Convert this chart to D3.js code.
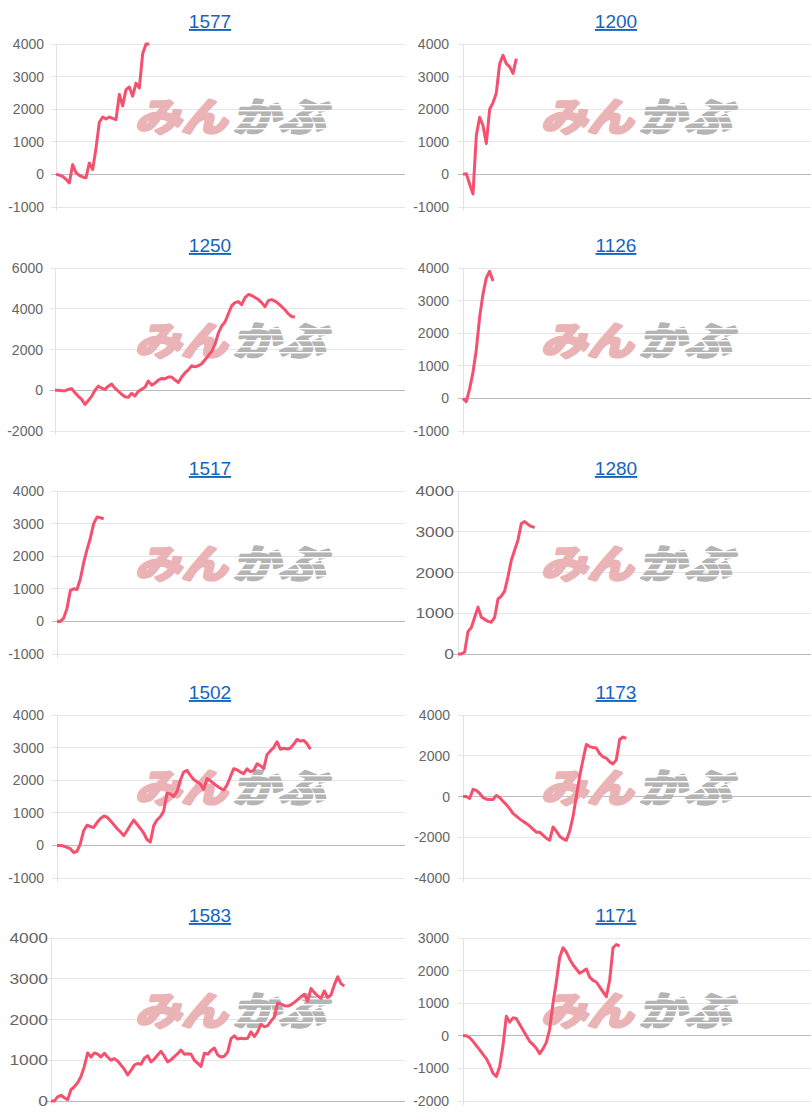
<!DOCTYPE html>
<html>
<head>
<meta charset="utf-8">
<script src="https://cdn.jsdelivr.net/npm/d3@7"></script>
<style>
  body { margin: 0; background: #fff; }
  svg { display: block; }
</style>
</head>
<body>
<script>
// chart data: one cumulative series per code
var titles = ["1577", "1200", "1250", "1126", "1517", "1280", "1502", "1173", "1583", "1171"];

var s1577 = [0, -20, -60, -150, -260, 300, 50, -30, -80, -100, 350, 150, 800, 1600, 1760, 1700, 1760, 1720, 1680, 2450,
  2100, 2600, 2680, 2400, 2800, 2650, 3700, 4000, 4000];
var s1200 = [0, 20, -300, -600, 1200, 1750, 1500, 950, 2000, 2200, 2500, 3400, 3650, 3400, 3300, 3100, 3550];
var s1250 = [0, 0, -20, -30, 50, 80, -120, -300, -450, -700, -500, -300, 0, 200, 100, 40, 200, 300, 100, -50,
  -200, -320, -350, -150, -280, -50, 50, 150, 450, 250, 350, 500, 580, 560, 650, 650, 500, 380, 650, 850,
  1000, 1200, 1150, 1200, 1300, 1500, 1700, 1900, 2250, 2800, 3150, 3350, 3750, 4150, 4300, 4350, 4200, 4550, 4700, 4650,
  4550, 4450, 4300, 4100, 4400, 4450, 4380, 4250, 4100, 3950, 3750, 3620, 3600];
var s1126 = [0, -100, 300, 800, 1500, 2500, 3200, 3700, 3900, 3600];
var s1517 = [0, 0, 100, 400, 950, 1000, 980, 1300, 1800, 2200, 2550, 3000, 3200, 3180, 3150];
var s1280 = [0, 0, 50, 550, 650, 900, 1150, 900, 850, 800, 780, 900, 1350, 1420, 1550, 1900, 2300, 2550, 2800, 3200,
  3250, 3180, 3130, 3100];
var s1502 = [0, 0, -20, -60, -100, -220, -180, 50, 450, 620, 580, 550, 700, 820, 900, 870, 760, 640, 520, 420,
  300, 450, 620, 780, 650, 520, 380, 180, 100, 600, 780, 880, 1050, 1600, 1580, 1500, 1650, 2000, 2250, 2300,
  2150, 2020, 1950, 1880, 1720, 2050, 1980, 1900, 1820, 1750, 1700, 1850, 2100, 2350, 2320, 2250, 2200, 2350, 2260, 2300,
  2500, 2450, 2350, 2780, 2900, 3000, 3180, 2950, 2980, 2960, 2980, 3100, 3250, 3200, 3220, 3120, 2950];
var s1173 = [0, 0, -100, 350, 300, 150, -50, -130, -150, -150, 50, -50, -230, -400, -600, -830, -960, -1100, -1220, -1320,
  -1450, -1600, -1750, -1750, -1900, -2050, -2150, -1500, -1700, -1950, -2080, -2150, -1700, -1000, 0, 1000, 1800, 2550, 2450, 2400,
  2380, 2100, 1950, 1880, 1700, 1600, 1800, 2800, 2920, 2850];
var s1583 = [0, 0, 100, 140, 80, 30, 280, 350, 450, 600, 850, 1180, 1080, 1180, 1150, 1080, 1170, 1080, 1000, 1040,
  980, 880, 780, 640, 750, 880, 920, 900, 1050, 1110, 960, 1030, 1130, 1220, 1100, 960, 1010, 1090, 1160, 1250,
  1150, 1160, 1150, 1000, 930, 850, 1170, 1150, 1240, 1300, 1130, 1080, 1100, 1200, 1530, 1600, 1520, 1540, 1530, 1540,
  1700, 1580, 1700, 1880, 1820, 1850, 1960, 2060, 2400, 2380, 2340, 2330, 2360, 2420, 2490, 2560, 2620, 2450, 2760, 2660,
  2580, 2520, 2700, 2540, 2600, 2850, 3050, 2880, 2820];
var s1171 = [0, 0, -60, -170, -300, -430, -570, -700, -900, -1150, -1250, -950, -300, 600, 420, 550, 530, 350, 180, 0,
  -170, -270, -380, -550, -400, -200, 200, 1000, 1650, 2400, 2700, 2570, 2350, 2180, 2050, 1920, 1980, 2050, 1800, 1700,
  1650, 1500, 1350, 1200, 1700, 2700, 2800, 2750];

var series = [s1577, s1200, s1250, s1126, s1517, s1280, s1502, s1173, s1583, s1171];

// y axis ranges and tick step of each panel
var yMin = [-1000, -1000, -2000, -1000, -1000, 0, -1000, -4000, 0, -2000];
var yMax = [4000, 4000, 6000, 4000, 4000, 4000, 4000, 4000, 4000, 3000];
var yStep = [1000, 1000, 2000, 1000, 1000, 1000, 1000, 2000, 1000, 1000];

var slots = 105; // length of the x period, data only fills part of it

// layout
var W = 812, H = 1120;
var colLeft = [0, 406];
var rowTop = [0, 224, 447, 671, 894];
var axisX = [56, 57, 55, 57, 57, 52, 57, 57, 51, 57];
var labelRight = [44, 43, 43, 43, 44, 48, 44, 44, 48, 43];
var labelStretch = [1, 1, 1, 1, 1, 1.24, 1, 1, 1.24, 1];
var plotTop = 44, plotBottom = 207, plotRight = 405;

var lineColor = "#f6506f";

var svg = d3.select("body").append("svg")
  .attr("width", W)
  .attr("height", H);

titles.forEach(function (t, i) {
  var px = colLeft[i % 2], py = rowTop[Math.floor(i / 2)];
  var g = svg.append("g").attr("transform", "translate(" + px + "," + py + ")");

  var x = d3.scaleLinear().domain([0, slots]).range([axisX[i], axisX[i] + 350]);
  var y = d3.scaleLinear().domain([yMin[i], yMax[i]]).range([plotBottom, plotTop]);
  var ticks = d3.range(yMin[i], yMax[i] + 1, yStep[i]);

  // title
  g.append("text")
    .attr("x", 210)
    .attr("y", 28)
    .attr("text-anchor", "middle")
    .style("font-family", "'Liberation Sans', Arial, sans-serif")
    .style("font-size", "19px")
    .style("fill", "#1565c0")
    .style("text-decoration", "underline")
    .text(t);

  // gridlines
  g.selectAll(".grid").data(ticks).enter().append("line")
    .attr("x1", axisX[i] - 5)
    .attr("x2", plotRight)
    .attr("y1", function (d) { return y(d); })
    .attr("y2", function (d) { return y(d); })
    .attr("stroke", function (d) { return d === 0 ? "#bcbcbc" : "#e6e6e6"; })
    .attr("stroke-width", 1)
    .attr("shape-rendering", "crispEdges");

  g.append("line")
    .attr("x1", axisX[i]).attr("x2", axisX[i])
    .attr("y1", plotTop).attr("y2", plotBottom + 4)
    .attr("stroke", "#e2e2e2")
    .attr("shape-rendering", "crispEdges");

  // tick labels
  g.selectAll(".lbl").data(ticks).enter().append("text")
    .attr("transform", function (d) {
      return "translate(" + labelRight[i] + "," + (y(d) + 5) + ") scale(" + labelStretch[i] + ",1)";
    })
    .attr("text-anchor", "end")
    .style("font-family", "'Liberation Sans', Arial, sans-serif")
    .style("font-size", "14px")
    .style("fill", "#666")
    .text(function (d) { return d; });

  // watermark logo (みんかぶ), heavy slanted glyphs with speed lines on the grey half
  var logo = g.append("g").attr("transform", "translate(131,97)");
  logo.append("text")
    .attr("transform", "translate(4,34) skewX(-14) scale(1.1,0.92)")
    .style("font-family", "'Noto Sans CJK JP', sans-serif")
    .style("font-weight", 700)
    .style("font-size", "42px")
    .style("fill", "#eab3b5")
    .style("stroke", "#eab3b5")
    .style("stroke-width", 3.5)
    .style("stroke-linejoin", "round")
    .text("みん");
  logo.append("text")
    .attr("transform", "translate(102,34) skewX(-14) scale(1.1,0.92)")
    .style("font-family", "'Noto Sans CJK JP', sans-serif")
    .style("font-weight", 700)
    .style("font-size", "42px")
    .style("fill", "#b4b4b4")
    .style("stroke", "#b4b4b4")
    .style("stroke-width", 3.5)
    .style("stroke-linejoin", "round")
    .text("かぶ");
  [7, 13, 19, 25, 31].forEach(function (yy) {
    logo.append("rect")
      .attr("x", 98).attr("y", yy)
      .attr("width", 104).attr("height", 1.4)
      .attr("fill", "#fff");
  });

  // the series line
  var line = d3.line()
    .x(function (d, k) { return x(k); })
    .y(function (d) { return y(d); });

  g.append("path")
    .datum(series[i])
    .attr("d", line)
    .attr("fill", "none")
    .attr("stroke", lineColor)
    .attr("stroke-width", 3)
    .attr("stroke-linejoin", "round");
});
</script>
</body>
</html>
